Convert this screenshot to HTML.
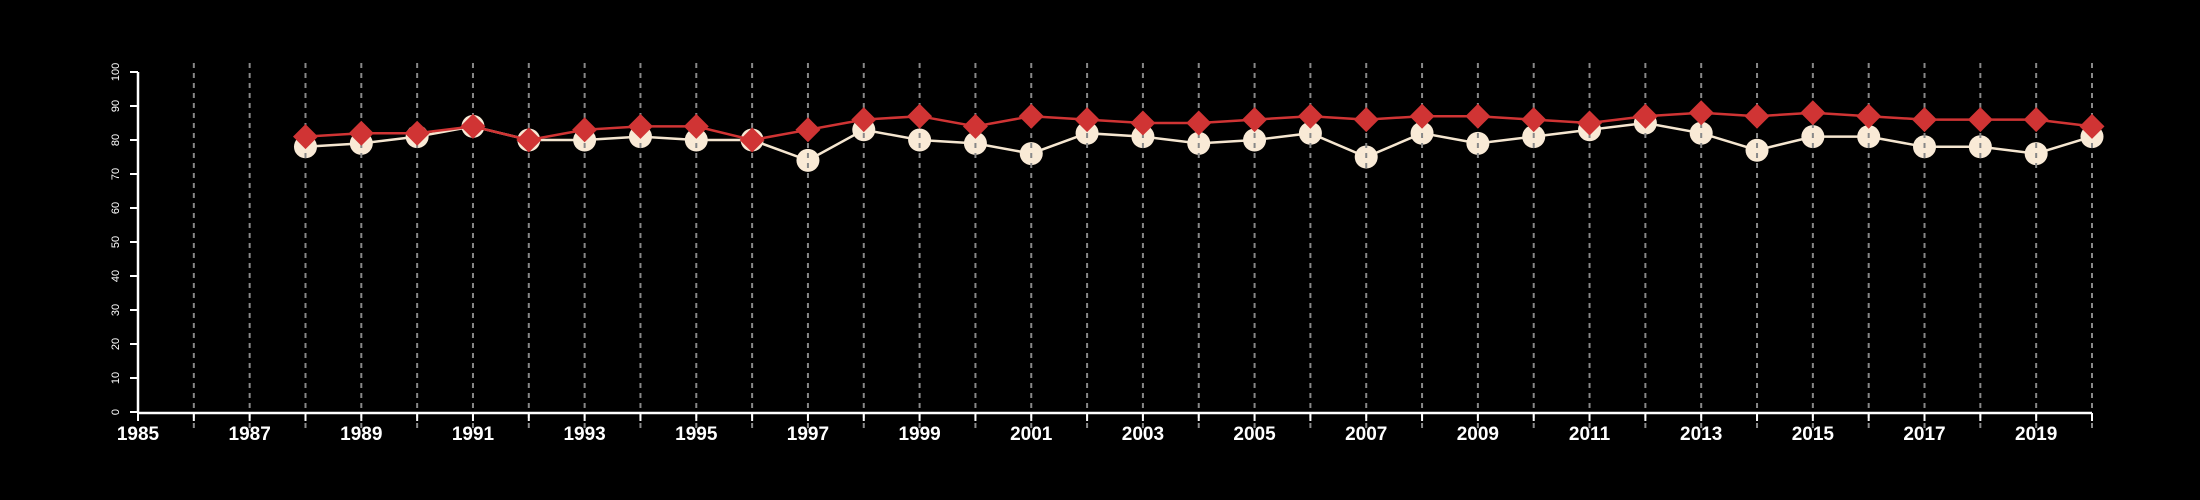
<!DOCTYPE html>
<html><head><meta charset="utf-8"><style>
html,body{margin:0;padding:0;background:#000;}
svg{display:block;}
</style></head><body>
<svg id="chart" width="2200" height="500" xmlns="http://www.w3.org/2000/svg">
<rect width="2200" height="500" fill="#000"/>
<g id="g-white"></g>
<g id="g-grid"></g>
<g id="g-red"></g>
<g id="g-axes"></g>
</svg>
<script>
const years = [1988,1989,1990,1991,1992,1993,1994,1995,1996,1997,1998,1999,2000,2001,2002,2003,2004,2005,2006,2007,2008,2009,2010,2011,2012,2013,2014,2015,2016,2017,2018,2019,2020];
const whiteValues = [78,79,81,84,80,80,81,80,80,74,83,80,79,76,82,81,79,80,82,75,82,79,81,83,85,82,77,81,81,78,78,76,81];
const redValues = [81,82,82,84,80,83,84,84,80,83,86,87,84,87,86,85,85,86,87,86,87,87,86,85,87,88,87,88,87,86,86,86,84];
const yTicks = [0,10,20,30,40,50,60,70,80,90,100];
const xTickLabels = [1985,1987,1989,1991,1993,1995,1997,1999,2001,2003,2005,2007,2009,2011,2013,2015,2017,2019];
const xMin = 1985, xMax = 2020;

const NS = "http://www.w3.org/2000/svg";
function xs(v){ return 138 + (v - xMin) * (2092 - 138) / (xMax - xMin); }
function ys(v){ return 412 - v * 3.4; }
function mk(tag, attrs, parent){ const e = document.createElementNS(NS, tag); for (const k in attrs) e.setAttribute(k, attrs[k]); parent.appendChild(e); return e; }

const gW = document.getElementById('g-white'), gG = document.getElementById('g-grid'), gR = document.getElementById('g-red'), gA = document.getElementById('g-axes');

// white series
let pw = mk('polyline', {points: years.map((y,i)=>xs(y)+','+ys(whiteValues[i])).join(' '), fill:'none', stroke:'#f5e6d0', 'stroke-width':2.5}, gW);


years.forEach((y,i)=>{
  const c = mk('circle', {cx:xs(y), cy:ys(whiteValues[i]), r:11.5, fill:'#f9ead6'}, gW);
  
  
});

// grid
for (let y = 1986; y <= 2020; y++){
  const l = mk('line', {x1:xs(y), x2:xs(y), y1:63, y2:432, stroke:'#888', 'stroke-width':2, 'stroke-dasharray':'5,5'}, gG);
  
  
}

// red series
let pr = mk('polyline', {points: years.map((y,i)=>xs(y)+','+ys(redValues[i])).join(' '), fill:'none', stroke:'#d03434', 'stroke-width':2.5}, gR);


years.forEach((y,i)=>{
  const cx = xs(y), cy = ys(redValues[i]), s = 12.5;
  const d = mk('polygon', {points: `${cx},${cy-s} ${cx+s},${cy} ${cx},${cy+s} ${cx-s},${cy}`, fill:'#d03434'}, gR);
  
  
});

// axes
let ya = mk('line', {x1:138, x2:138, y1:ys(100), y2:ys(0), stroke:'#fff', 'stroke-width':2.5}, gA);


yTicks.forEach(v=>{
  const t = mk('line', {x1:130, x2:138, y1:ys(v), y2:ys(v), stroke:'#fff', 'stroke-width':2}, gA);
  
  
  const tx = mk('text', {x:0, y:0, transform:`translate(119,${ys(v)}) rotate(-90)`, 'text-anchor':'middle', fill:'#fff', 'font-family':'Liberation Sans, sans-serif', 'font-size':11}, gA);
  tx.textContent = v;
  
  
});
let xa = mk('line', {x1:xs(xMin), x2:xs(xMax), y1:413, y2:413, stroke:'#fff', 'stroke-width':2.5}, gA);


for (let y = xMin; y <= xMax; y++){
  const t = mk('line', {x1:xs(y), x2:xs(y), y1:413, y2:421, stroke:'#fff', 'stroke-width':2}, gA);
  
  
}
xTickLabels.forEach(v=>{
  const tx = mk('text', {x:xs(v), y:440, 'text-anchor':'middle', fill:'#fff', 'font-family':'Liberation Sans, sans-serif', 'font-size':19, 'font-weight':'bold'}, gA);
  tx.textContent = v;
  
  
});
</script>
</body></html>
